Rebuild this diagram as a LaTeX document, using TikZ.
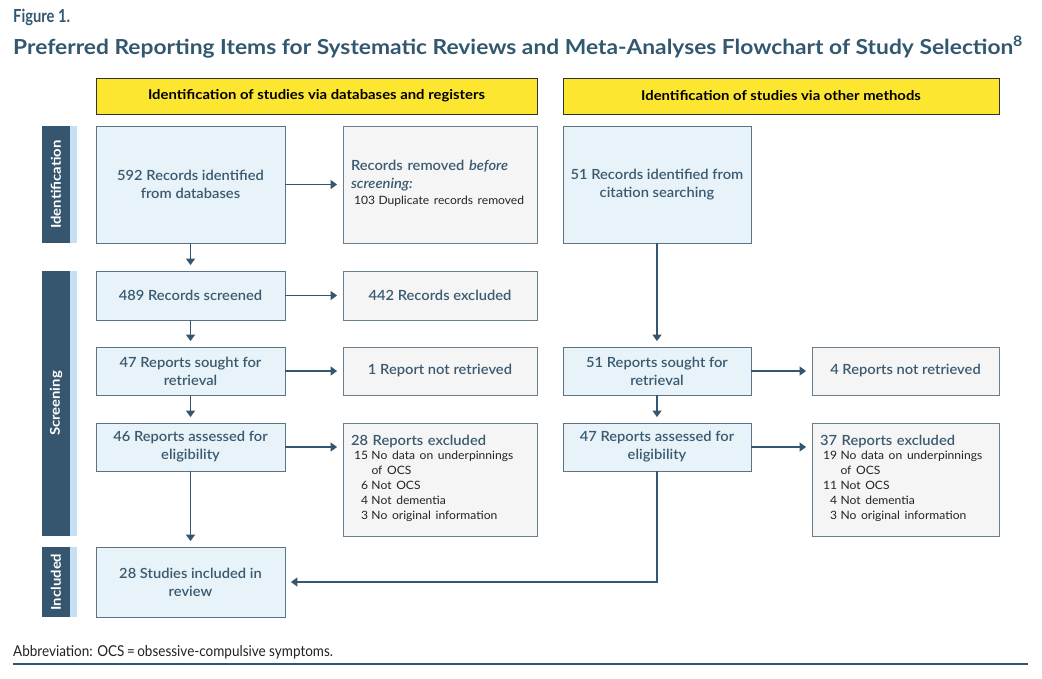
\documentclass[tikz,border=0pt]{standalone}
\usepackage{fontspec}
\setmainfont{Lato}[FakeStretch=1.05]
\newfontfamily\semi{Lato Semibold}[FakeStretch=1.05]
\newfontfamily\bld{Lato Bold}[FakeStretch=1.1]
\newfontfamily\cond{Lato}[FakeStretch=0.9]
\newfontfamily\condb{Lato Bold}[FakeStretch=0.82]
\usetikzlibrary{arrows.meta}
\definecolor{navy}{HTML}{35566E}
\definecolor{titlec}{HTML}{32586F}
\definecolor{strip}{HTML}{C5E0F4}
\definecolor{bluefill}{HTML}{E8F2F9}
\definecolor{boxline}{HTML}{5A7385}
\definecolor{greyfill}{HTML}{F5F5F5}
\definecolor{greyline}{HTML}{6A7F8E}
\definecolor{yel}{HTML}{FCE62F}
\definecolor{txt}{HTML}{3A5A70}
\definecolor{subtxt}{HTML}{222222}
\newcommand{\sublist}[1]{{\normalfont\fontsize{11.5}{15}\selectfont\color{subtxt}\renewcommand\arraystretch{1}\begin{tabular}{@{\hspace{3pt}}r@{\hspace{3.5pt}}l@{}}#1\end{tabular}}}
\begin{document}
\begin{tikzpicture}[x=1pt,y=-1pt,
  bbox/.style={draw=boxline, line width=0.8pt, fill=bluefill, inner sep=0pt, align=center, text=txt, font=\semi\fontsize{14}{18}\selectfont},
  gbox/.style={draw=greyline, line width=0.8pt, fill=greyfill, inner sep=0pt, align=center, text=txt, font=\semi\fontsize{14}{18}\selectfont},
  ybox/.style={draw=black!80, line width=0.8pt, fill=yel, minimum height=36pt, inner sep=0pt, font=\bld\fontsize{13.5}{15}\selectfont},
  sidebar/.style={fill=navy, minimum width=28pt, inner sep=0pt},
  sidelabel/.style={rotate=90, text=white, font=\bld\fontsize{13.5}{15}\selectfont},
  arr/.style={draw=navy, line width=1.1pt, -{Triangle[width=9pt,length=6.5pt]}, shorten >=5.5pt}
]
\useasboundingbox (0,0) rectangle (1042,678);

% title
\node[anchor=base west, inner sep=0pt, text=titlec, font=\condb\fontsize{18}{20}\selectfont] (fig) at (13,22) {Figure 1.};
\node[anchor=base west, inner sep=0pt, text=titlec, font=\bld\fontsize{20.7}{22}\selectfont] (title) at (13,54) {Preferred Reporting Items for Systematic Reviews and Meta-Analyses Flowchart of Study Selection\textsuperscript{8}};

% headers
\node[ybox, minimum width=441pt] (h1) at (316.5,96) {Identification of studies via databases and registers};
\node[ybox, minimum width=436pt] (h2) at (781,96) {Identification of studies via other methods};

% side bars
\fill[strip] (70,126) rectangle (77,243);
\fill[strip] (70,271) rectangle (77,536);
\fill[strip] (70,547) rectangle (77,617);
\node[sidebar, minimum height=117pt] (s1) at (56,184.5) {};
\node[sidebar, minimum height=265pt] (s2) at (56,403.5) {};
\node[sidebar, minimum height=70pt] (s3) at (56,582) {};
\node[sidelabel] (l1) at (s1) {Identification};
\node[sidelabel] (l2) at (s2) {Screening};
\node[sidelabel] (l3) at (s3) {Included};

% left column
\node[bbox, minimum width=189pt, minimum height=117pt] (a1) at (190.5,184.5) {592 Records identified\\from databases};
\node[bbox, minimum width=189pt, minimum height=49pt] (a2) at (190.5,295.5) {489 Records screened};
\node[bbox, minimum width=189pt, minimum height=48pt] (a3) at (190.5,371) {47 Reports sought for\\retrieval};
\node[bbox, minimum width=189pt, minimum height=48pt] (a4) at (190.5,447) {46 Reports assessed for\\eligibility};
\node[bbox, minimum width=189pt, minimum height=70pt] (a5) at (190.5,582) {28 Studies included in\\review};

% middle column
\node[gbox, minimum width=194pt, minimum height=117pt, text width=178pt, align=left] (r1) at (440,185) {Records removed \textit{before}\\\textit{screening:}\\[-2pt]\sublist{103 & Duplicate records removed}};
\node[gbox, minimum width=194pt, minimum height=49pt] (r2) at (440,295.5) {442 Records excluded};
\node[gbox, minimum width=194pt, minimum height=48pt] (r3) at (440,371) {1 Report not retrieved};
\node[gbox, minimum width=194pt, minimum height=113pt, text width=178pt, align=left] (r4) at (440,479.5) {28 Reports excluded\\[0pt]\sublist{15 & No data on underpinnings\\ & of OCS\\ 6 & Not OCS\\ 4 & Not dementia\\ 3 & No original information}};

% other methods
\node[bbox, minimum width=188pt, minimum height=117pt] (c1) at (657,184.5) {51 Records identified from\\citation searching};
\node[bbox, minimum width=188pt, minimum height=48pt] (c3) at (657,371) {51 Reports sought for\\retrieval};
\node[bbox, minimum width=188pt, minimum height=48pt] (c4) at (657,447) {47 Reports assessed for\\eligibility};
\node[gbox, minimum width=187pt, minimum height=48pt] (x3) at (905.5,371) {4 Reports not retrieved};
\node[gbox, minimum width=187pt, minimum height=113pt, text width=171pt, align=left] (x4) at (905.5,479.5) {37 Reports excluded\\[0pt]\sublist{19 & No data on underpinnings\\ & of OCS\\ 11 & Not OCS\\ 4 & Not dementia\\ 3 & No original information}};

% arrows
\draw[arr] (a1) -- (r1.west |- a1);
\draw[arr] (a2) -- (r2);
\draw[arr] (a3) -- (r3);
\draw[arr] (a4.east) -- (a4.east -| r4.west);
\draw[arr] (a1) -- (a2);
\draw[arr] (a2) -- (a3);
\draw[arr] (a3) -- (a4);
\draw[arr] (a4) -- (a5);
\draw[arr] (c1) -- (c3);
\draw[arr] (c3) -- (c4);
\draw[arr] (c3) -- (x3);
\draw[arr] (c4.east) -- (c4.east -| x4.west);
\draw[arr] (c4.south) |- (a5.east);

% footnote
\node[anchor=base west, inner sep=0pt, text=subtxt, font=\cond\fontsize{15}{17}\selectfont] (abbr) at (13,656) {Abbreviation: OCS\,=\,obsessive-compulsive symptoms.};
\coordinate (fl) at (13,664);
\coordinate (fr) at (1028,664);
\draw[navy, line width=1.2pt] (fl) -- (fr);
\end{tikzpicture}
\end{document}
